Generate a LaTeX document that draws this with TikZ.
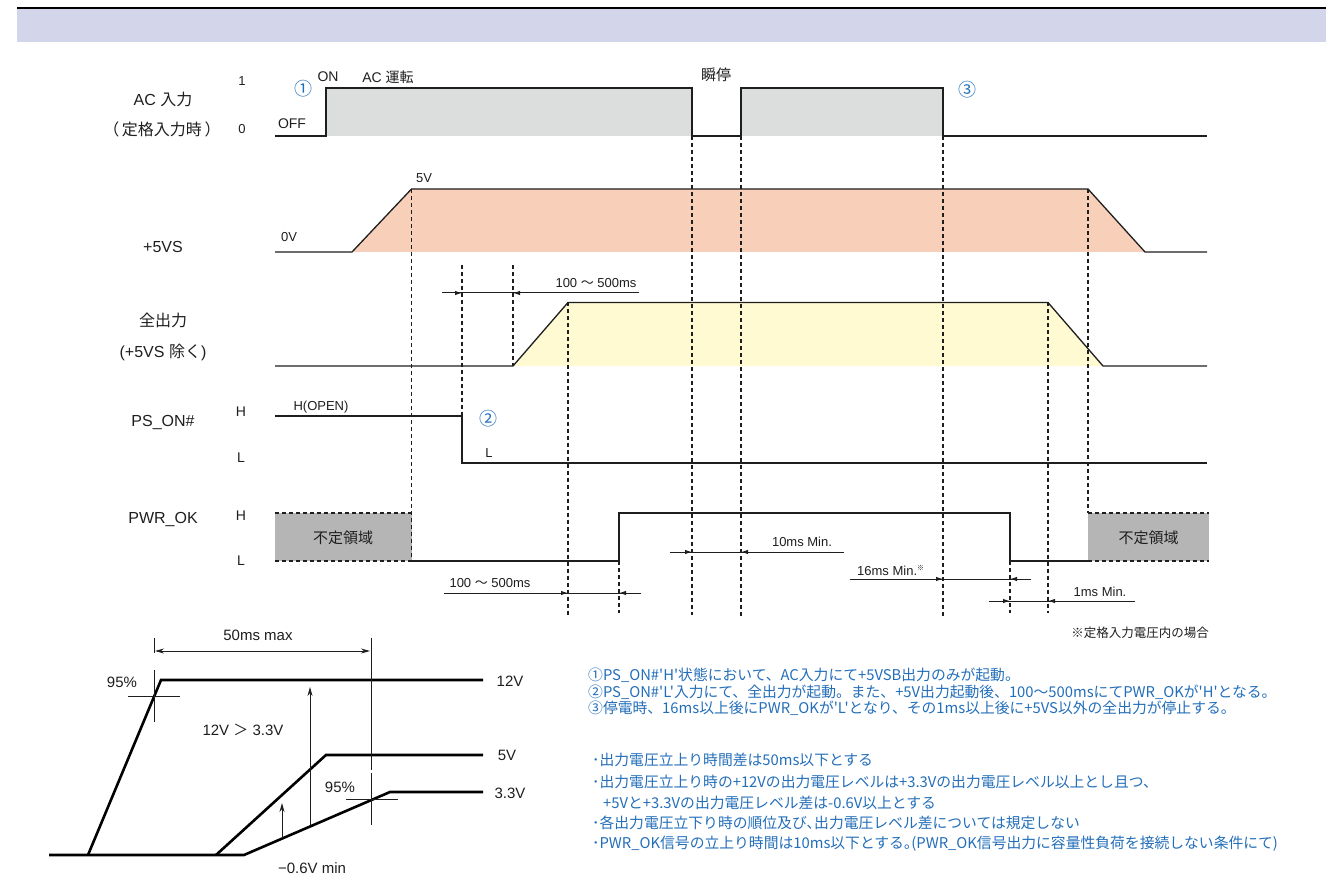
\documentclass[tikz,border=0pt]{standalone}
\usepackage{fontspec}
\setmainfont{Liberation Sans}
\newfontfamily\jp{Noto Sans CJK JP}
\usetikzlibrary{arrows.meta}
\definecolor{sig}{RGB}{30,30,30}
\definecolor{acfill}{RGB}{220,221,221}
\definecolor{vsfill}{RGB}{248,208,186}
\definecolor{allfill}{RGB}{255,250,210}
\definecolor{boxfill}{RGB}{181,181,181}
\definecolor{band}{RGB}{211,214,234}
\definecolor{note}{RGB}{35,110,185}
\begin{document}
\begin{tikzpicture}[x=1pt,y=-1pt,
  sigline/.style={line width=1.3pt,draw=sig},
  guide/.style={line width=1.2pt,draw=sig,dash pattern=on 4pt off 3pt},
  dim/.style={line width=1pt,draw=sig},
  tip/.style={-{Latex[length=7pt,width=4.5pt]}},
  thickv/.style={line width=2.6pt,draw=black},
  thinv/.style={line width=0.9pt,draw=sig},
  big/.style={font=\fontsize{16}{19}\selectfont,inner sep=0pt,text=sig},
  mid/.style={font=\fontsize{14}{17}\selectfont,inner sep=0pt,text=sig},
  small/.style={font=\fontsize{13}{15}\selectfont,inner sep=0pt,text=sig},
  chart/.style={font=\fontsize{15}{18}\selectfont,inner sep=0pt,text=sig},
  circ/.style={font=\jp\fontsize{18}{20}\selectfont,inner sep=0pt,text=note},
  notetext/.style={font=\jp\fontsize{14.8}{18}\selectfont,inner sep=0pt,text=note,anchor=west},
]
\useasboundingbox (0,0) rectangle (1326,877);
% header
\fill[band] (17,9.3) rectangle (1326,41.7);
\draw[line width=2pt] (17,8.3) -- (1326,8.3);

% fills
\fill[acfill] (326,88) rectangle (692,136);
\fill[acfill] (741,88) rectangle (943,136);
\fill[vsfill] (352,252) -- (411.5,189) -- (1088,189) -- (1145,252) -- cycle;
\fill[allfill] (513,366) -- (568,302.5) -- (1048,302.5) -- (1103,366) -- cycle;
\fill[boxfill] (275,513) rectangle (411.5,561);
\fill[boxfill] (1088,513) rectangle (1209,561);

% guides
\draw[guide] (411.5,189) -- (411.5,561);
\draw[guide] (462,265) -- (462,416);
\draw[guide] (513,265) -- (513,366);
\draw[guide] (568,302.5) -- (568,617);
\draw[guide] (619,561) -- (619,613);
\draw[guide] (692,136) -- (692,615);
\draw[guide] (741,136) -- (741,617);
\draw[guide] (943,136) -- (943,617);
\draw[guide] (1010,561) -- (1010,613);
\draw[guide] (1048,302.5) -- (1048,613);
\draw[guide] (1088,189) -- (1088,513);
\draw[guide] (275,513) -- (411.5,513);
\draw[guide] (275,561) -- (411.5,561);
\draw[guide] (1088,513) -- (1209,513);
\draw[guide] (1088,561) -- (1209,561);

% signals
\draw[sigline] (275,136) -- (326,136) -- (326,88) -- (692,88) -- (692,136) -- (741,136) -- (741,88) -- (943,88) -- (943,136) -- (1207,136);
\draw[sigline] (275,252) -- (352,252) -- (411.5,189) -- (1088,189) -- (1145,252) -- (1207,252);
\draw[sigline] (275,366) -- (513,366) -- (568,302.5) -- (1048,302.5) -- (1103,366) -- (1207,366);
\draw[sigline] (275,416) -- (462,416) -- (462,463) -- (1207,463);
\draw[sigline] (411.5,561) -- (619,561) -- (619,513) -- (1010,513) -- (1010,561) -- (1088,561);

% dimension lines
\coordinate (d1a) at (442,293); \coordinate (d1b) at (462,293); \coordinate (d1c) at (513,293); \coordinate (d1d) at (639,293);
\draw[dim] (d1a) -- (d1d); \draw[dim,tip] (d1a) -- (d1b); \draw[dim,tip] (d1d) -- (d1c);
\coordinate (d2a) at (444,593); \coordinate (d2b) at (568,593); \coordinate (d2c) at (619,593); \coordinate (d2d) at (641,593);
\draw[dim] (d2a) -- (d2d); \draw[dim,tip] (d2a) -- (d2b); \draw[dim,tip] (d2d) -- (d2c);
\coordinate (d3a) at (670,552); \coordinate (d3b) at (692,552); \coordinate (d3c) at (741,552); \coordinate (d3d) at (843.5,552);
\draw[dim] (d3a) -- (d3d); \draw[dim,tip] (d3a) -- (d3b); \draw[dim,tip] (d3d) -- (d3c);
\coordinate (d4a) at (849.5,579); \coordinate (d4b) at (943,579); \coordinate (d4c) at (1010,579); \coordinate (d4d) at (1031,579);
\draw[dim] (d4a) -- (d4d); \draw[dim,tip] (d4a) -- (d4b); \draw[dim,tip] (d4d) -- (d4c);
\coordinate (d5a) at (989,601); \coordinate (d5b) at (1010,601); \coordinate (d5c) at (1048,601); \coordinate (d5d) at (1135,601);
\draw[dim] (d5a) -- (d5d); \draw[dim,tip] (d5a) -- (d5b); \draw[dim,tip] (d5d) -- (d5c);

% labels left
\node[big] (acin) at (163,99) {AC {\jp 入力}};
\node[big,font=\jp\fontsize{16}{19}\selectfont] (rated) at (162,129) {（\,定格入力時\,）};
\node[small] (one) at (242,81) {1};
\node[small] (zero) at (242,129) {0};
\node[big] (vs) at (163,247) {+5VS};
\node[big,font=\jp\fontsize{16}{19}\selectfont] (allout) at (163,320) {全出力};
\node[big] (excl) at (163,352) {(+5VS {\jp 除く})};
\node[big] (pson) at (163,423) {PS\_ON\#};
\node[mid] (psh) at (241,412) {H};
\node[mid] (psl) at (241,458) {L};
\node[big] (pwrok) at (163,520) {PWR\_OK};
\node[mid] (pwh) at (241,516) {H};
\node[mid] (pwl) at (241,561) {L};

% labels in chart
\node[circ] (c1) at (303,89) {①};
\node[mid] (on) at (328,77) {ON};
\node[mid] (acrun) at (388,77) {AC {\jp 運転}};
\node[mid] (off) at (292,124) {OFF};
\node[mid,font=\jp\fontsize{15}{17}\selectfont] (shun) at (716,75) {瞬停};
\node[circ] (c3) at (967,90) {③};
\node[small] (zv) at (289,237) {0V};
\node[small] (fv) at (424,178) {5V};
\node[small] (t1) at (596,283) {100 {\jp 〜} 500ms};
\node[small] (hopen) at (321,407) {H(OPEN)};
\node[circ] (c2) at (488,419) {②};
\node[small] (ll) at (489,453) {L};
\node[mid,font=\jp\fontsize{15}{17}\selectfont] (fu1) at (343,538) {不定領域};
\node[mid,font=\jp\fontsize{15}{17}\selectfont] (fu2) at (1148.5,538) {不定領域};
\node[small] (t2) at (490,583) {100 {\jp 〜} 500ms};
\node[small] (t3) at (802,542) {10ms Min.};
\node[small,anchor=west] (t4) at (857,570) {16ms Min.\raisebox{5pt}{\jp\fontsize{7}{8}\selectfont ※}};
\node[small] (t5) at (1100,592) {1ms Min.};
\node[small,anchor=east,font=\jp\fontsize{12.5}{15}\selectfont] (rem) at (1209,633) {※定格入力電圧内の場合};

% bottom chart
\draw[thickv] (49,855) -- (244,855) -- (390,792) -- (483,792);
\draw[thickv] (88,855) -- (161,680) -- (483,680);
\draw[thickv] (216,855) -- (326,755) -- (483,755);
\draw[thinv] (154,638) -- (154,653);
\draw[thinv] (154,670) -- (154,722);
\draw[thinv] (128,696) -- (180,696);
\draw[thinv] (371,638) -- (371,770);
\draw[thinv] (371,773) -- (371,825);
\draw[thinv] (346,799) -- (398,799);
\coordinate (m1) at (155,651); \coordinate (m2) at (370,651);
\draw[thinv,{Stealth[length=9pt,width=5pt]}-{Stealth[length=9pt,width=5pt]}] (m1) -- (m2);
\coordinate (u1a) at (310,825); \coordinate (u1b) at (310,687);
\draw[thinv,-{Stealth[length=9pt,width=5pt]}] (u1a) -- (u1b);
\coordinate (u2a) at (282,838); \coordinate (u2b) at (282,803);
\draw[thinv,-{Stealth[length=9pt,width=5pt]}] (u2a) -- (u2b);
\node[chart] (p95a) at (122,682) {95\%};
\node[chart] (fifty) at (258,635) {50ms max};
\node[chart] (v12) at (510,681) {12V};
\node[chart] (v5) at (507,755) {5V};
\node[chart] (v33) at (510,793) {3.3V};
\node[chart] (cmp) at (243,730) {12V {\jp ＞} 3.3V};
\node[chart] (p95b) at (340,787) {95\%};
\node[chart] (minv) at (312,868) {−0.6V min};

% notes
\node[notetext] (n1) at (588,675) {①PS\_ON\#'H'状態において、AC入力にて+5VSB出力のみが起動。};
\node[notetext] (n2) at (588,692) {②PS\_ON\#'L'入力にて、全出力が起動。また、+5V出力起動後、100〜500msにてPWR\_OKが'H'となる。};
\node[notetext] (n3) at (588,708) {③停電時、16ms以上後にPWR\_OKが'L'となり、その1ms以上後に+5VS以外の全出力が停止する。};
\node[notetext] (n4) at (592,760) {･出力電圧立上り時間差は50ms以下とする};
\node[notetext] (n5) at (592,782) {･出力電圧立上り時の+12Vの出力電圧レベルは+3.3Vの出力電圧レベル以上とし且つ、};
\node[notetext] (n6) at (603,803) {+5Vと+3.3Vの出力電圧レベル差は-0.6V以上とする};
\node[notetext] (n7) at (592,823) {･各出力電圧立下り時の順位及び､出力電圧レベル差については規定しない};
\node[notetext] (n8) at (592,844) {･PWR\_OK信号の立上り時間は10ms以下とする｡(PWR\_OK信号出力に容量性負荷を接続しない条件にて)};
\end{tikzpicture}
\end{document}
